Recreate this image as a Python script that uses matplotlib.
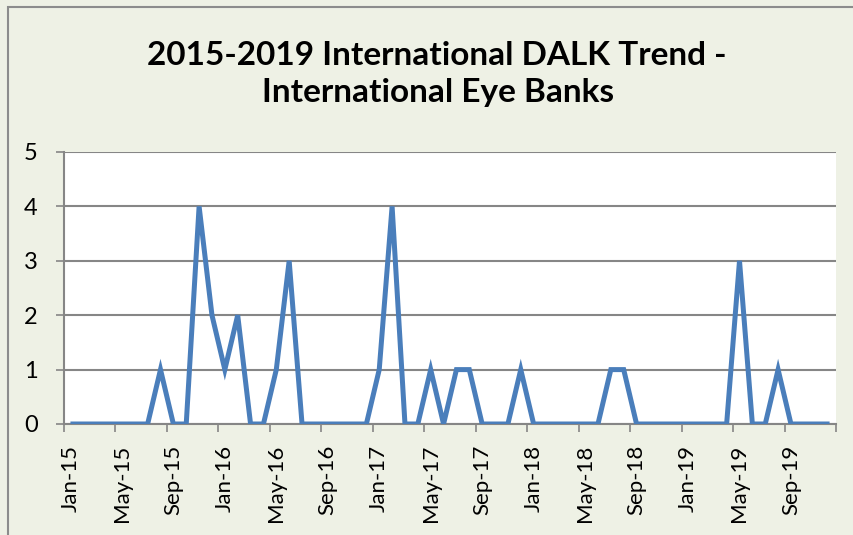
import matplotlib
matplotlib.use("Agg")
import matplotlib.pyplot as plt
from matplotlib.patches import Rectangle

# Monthly DALK counts, Jan 2015 .. Dec 2019
months = [f"{m}-{y}" for y in ["15", "16", "17", "18", "19"]
          for m in ["Jan", "Feb", "Mar", "Apr", "May", "Jun",
                    "Jul", "Aug", "Sep", "Oct", "Nov", "Dec"]]
counts_2015 = [0, 0, 0, 0, 0, 0, 0, 1, 0, 0, 4, 2]
counts_2016 = [1, 2, 0, 0, 1, 3, 0, 0, 0, 0, 0, 0]
counts_2017 = [1, 4, 0, 0, 1, 0, 1, 1, 0, 0, 0, 1]
counts_2018 = [0, 0, 0, 0, 0, 0, 1, 1, 0, 0, 0, 0]
counts_2019 = [0, 0, 0, 0, 3, 0, 0, 1, 0, 0, 0, 0]
counts = counts_2015 + counts_2016 + counts_2017 + counts_2018 + counts_2019

title_lines = ["2015-2019 International DALK Trend -", "International Eye Banks"]
y_ticks = [0, 1, 2, 3, 4, 5]

FONT = "Lato"
W, H = 854, 535
fig = plt.figure(figsize=(W / 100, H / 100), dpi=100)
bg = "#EEF1E5"
fig.patch.set_facecolor(bg)

# outer chart border
fig.add_artist(Rectangle((8 / W, -0.01), 1.0, 1 - 7 / H + 0.01,
                         transform=fig.transFigure, fill=False,
                         edgecolor="#8C8C8C", linewidth=1.5))

left, right, top, bottom = 64, 836, 152, 424
ax = fig.add_axes([left / W, 1 - bottom / H, (right - left) / W, (bottom - top) / H])
ax.set_facecolor("white")

x = list(range(len(months)))
ax.plot(x, counts, color="#4A7EBB", linewidth=3.6, solid_joinstyle="miter",
        solid_capstyle="butt", zorder=3)

ax.set_xlim(-0.5, len(months) - 0.5)
ax.set_ylim(0, 5)
ax.set_yticks(y_ticks)
ax.yaxis.grid(True, color="#868686", linewidth=1.5)
ax.set_axisbelow(True)

# category labels every fourth month, ticks on category boundaries
ax.set_xticks(x[::4])
ax.set_xticklabels(months[::4], rotation=90, fontsize=16, family=FONT)
ax.set_xticks([i - 0.5 for i in range(0, len(months) + 1, 4)], minor=True)
ax.tick_params(axis="x", which="major", length=0, pad=15)
ax.tick_params(axis="x", which="minor", length=6, width=1.2, color="#868686")
ax.tick_params(axis="y", length=6, width=1.2, color="#868686",
               labelsize=17, pad=13)
for lab in ax.get_yticklabels():
    lab.set_family(FONT)

for side in ["top", "right"]:
    ax.spines[side].set_visible(False)
for side in ["left", "bottom"]:
    ax.spines[side].set_color("#868686")
    ax.spines[side].set_linewidth(1.5)

for line, xc, base in zip(title_lines, [436.5, 438], [65, 102]):
    fig.text(xc / W, 1 - base / H, line, ha="center", va="baseline",
             fontsize=24, fontweight="bold", family=FONT)

fig.savefig("out.png", dpi=100, facecolor=bg)
